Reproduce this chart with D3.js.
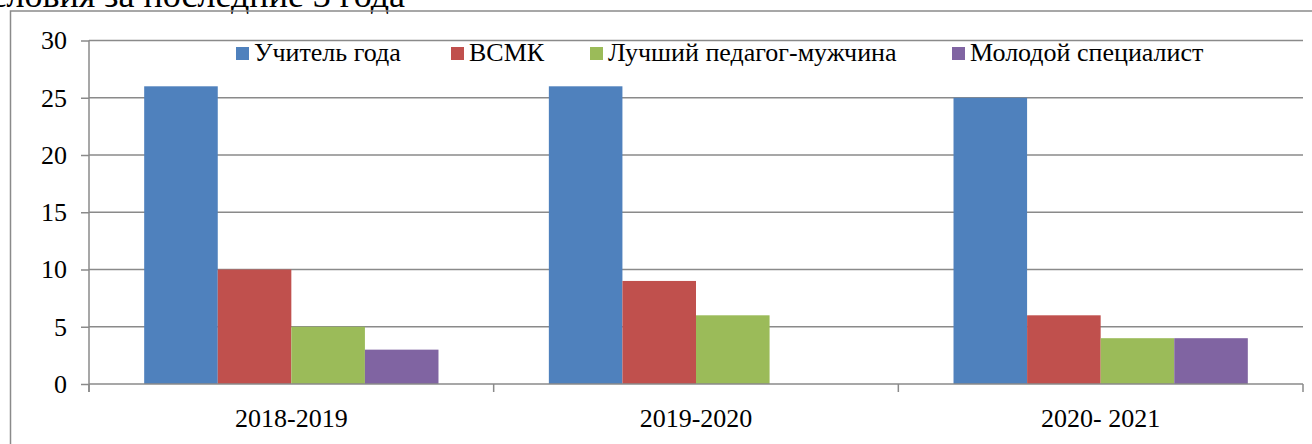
<!DOCTYPE html>
<html>
<head>
<meta charset="utf-8">
<script src="https://cdn.jsdelivr.net/npm/d3@7"></script>
<style>
  html, body { margin: 0; padding: 0; background: #fff; overflow: hidden; }
  svg { display: block; }
  svg text { font-family: "Liberation Serif", "Times New Roman", "DejaVu Serif", serif; }
</style>
</head>
<body>
<svg id="chart"></svg>
<script>
// Full size of the svg element.
const WIDTH = 1312;
const HEIGHT = 444;

// Plot area (inside the chart frame).
const PLOT_LEFT = 89;
const PLOT_RIGHT = 1303;
const PLOT_TOP = 40.5;
const PLOT_BOTTOM = 384;

const FONT = '"Liberation Serif", "Times New Roman", "DejaVu Serif", serif';
const FONT_SIZE = 26;
const GRID_COLOR = '#8a8a8a';

// Data.
const categories = ['2018-2019', '2019-2020', '2020- 2021'];
const seriesNames = ['Учитель года', 'ВСМК', 'Лучший педагог-мужчина', 'Молодой специалист'];
const seriesColors = ['#4F81BD', '#C0504D', '#9BBB59', '#8064A2'];
const teacherOfYear = [26, 26, 25];
const vsmk = [10, 9, 6];
const bestMaleTeacher = [5, 6, 4];
const youngSpecialist = [3, 0, 4];
const yTicks = [0, 5, 10, 15, 20, 25, 30];

const seriesValues = [teacherOfYear, vsmk, bestMaleTeacher, youngSpecialist];

// Legend item left edges (square position).
const legendX = [236, 451, 590, 952];

const svg = d3.select('#chart').attr('width', WIDTH).attr('height', HEIGHT);

// Heading above the chart frame; only its lower part is in view.
svg.append('text')
  .attr('x', 405)
  .attr('y', 7)
  .attr('text-anchor', 'end')
  .attr('font-family', FONT)
  .attr('font-size', 36)
  .text('условия за последние 3 года');

// Chart frame (runs past the right and bottom edges).
svg.append('rect')
  .attr('x', 10.5)
  .attr('y', 11)
  .attr('width', WIDTH + 20)
  .attr('height', HEIGHT + 20)
  .attr('fill', 'none')
  .attr('stroke', GRID_COLOR)
  .attr('stroke-width', 1.5);

const yScale = d3.scaleLinear().domain([0, 30]).range([PLOT_BOTTOM, PLOT_TOP]);

const xScale = d3.scaleBand()
  .domain(categories)
  .range([PLOT_LEFT, PLOT_RIGHT])
  .paddingInner(0)
  .paddingOuter(0);

const seriesScale = d3.scaleBand()
  .domain(d3.range(seriesNames.length))
  .range([0, xScale.bandwidth()])
  .paddingInner(0)
  .paddingOuter(0.75);

// Horizontal gridlines.
svg.append('g')
  .selectAll('line')
  .data(yTicks.filter(t => t > 0))
  .join('line')
  .attr('x1', PLOT_LEFT)
  .attr('x2', PLOT_RIGHT)
  .attr('y1', d => yScale(d))
  .attr('y2', d => yScale(d))
  .attr('stroke', GRID_COLOR)
  .attr('stroke-width', 1.5);

// Bars.
const groups = svg.append('g')
  .selectAll('g')
  .data(categories)
  .join('g')
  .attr('transform', d => `translate(${xScale(d)},0)`);

groups.selectAll('rect')
  .data((c, ci) => seriesValues.map((vals, si) => ({si, value: vals[ci]})))
  .join('rect')
  .attr('x', d => seriesScale(d.si))
  .attr('width', seriesScale.bandwidth())
  .attr('y', d => yScale(d.value))
  .attr('height', d => PLOT_BOTTOM - yScale(d.value))
  .attr('fill', d => seriesColors[d.si]);

// Y axis.
const yAxis = d3.axisLeft(yScale)
  .tickValues(yTicks)
  .tickSize(8)
  .tickPadding(14)
  .tickFormat(d3.format('d'));

const yAxisGroup = svg.append('g')
  .attr('transform', `translate(${PLOT_LEFT},0)`)
  .call(yAxis);
yAxisGroup.attr('font-family', FONT).attr('font-size', FONT_SIZE);
yAxisGroup.select('.domain').remove();
yAxisGroup.selectAll('line').attr('stroke', GRID_COLOR).attr('stroke-width', 1.5);
yAxisGroup.selectAll('text').attr('fill', '#000');

// Vertical axis line (runs down to the category tick length).
svg.append('line')
  .attr('x1', PLOT_LEFT)
  .attr('x2', PLOT_LEFT)
  .attr('y1', PLOT_TOP)
  .attr('y2', PLOT_BOTTOM + 8)
  .attr('stroke', GRID_COLOR)
  .attr('stroke-width', 1.5);

// X axis: baseline, category boundary ticks and labels.
svg.append('line')
  .attr('x1', PLOT_LEFT)
  .attr('x2', PLOT_RIGHT)
  .attr('y1', PLOT_BOTTOM)
  .attr('y2', PLOT_BOTTOM)
  .attr('stroke', GRID_COLOR)
  .attr('stroke-width', 1.5);

const boundaries = categories.map(c => xScale(c)).concat([xScale.range()[1]]);
svg.append('g')
  .selectAll('line')
  .data(boundaries)
  .join('line')
  .attr('x1', d => d)
  .attr('x2', d => d)
  .attr('y1', PLOT_BOTTOM)
  .attr('y2', PLOT_BOTTOM + 8)
  .attr('stroke', GRID_COLOR)
  .attr('stroke-width', 1.5);

svg.append('g')
  .selectAll('text')
  .data(categories)
  .join('text')
  .attr('x', d => xScale(d) + xScale.bandwidth() / 2)
  .attr('y', 427)
  .attr('text-anchor', 'middle')
  .attr('font-family', FONT)
  .attr('font-size', FONT_SIZE)
  .text(d => d);

// Legend.
const legend = svg.append('g')
  .selectAll('g')
  .data(seriesNames)
  .join('g')
  .attr('transform', (d, i) => `translate(${legendX[i]},0)`);

legend.append('rect')
  .attr('x', 0)
  .attr('y', 47)
  .attr('width', 13)
  .attr('height', 13)
  .attr('fill', (d, i) => seriesColors[i]);

legend.append('text')
  .attr('x', 18)
  .attr('y', 61)
  .attr('font-family', FONT)
  .attr('font-size', FONT_SIZE)
  .text(d => d);
</script>
</body>
</html>
